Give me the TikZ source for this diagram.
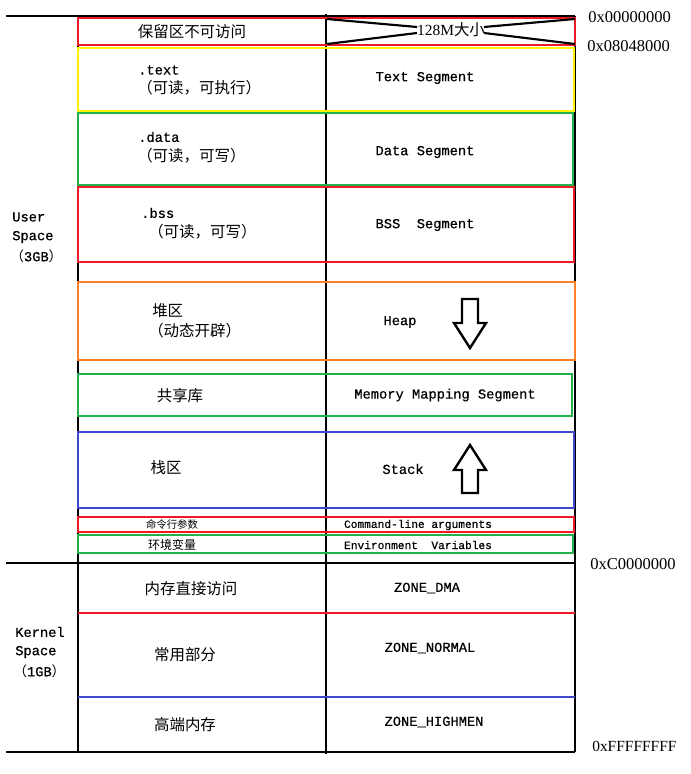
\documentclass[tikz,border=0pt]{standalone}
\usepackage{fontspec}
\setmainfont[FakeBold=0.6]{Liberation Mono}
\newfontfamily\cjk{Noto Sans CJK SC}
\newfontfamily\tms{Liberation Serif}
\definecolor{pred}{RGB}{237,28,36}
\definecolor{pyellow}{RGB}{255,242,0}
\definecolor{pgreen}{RGB}{34,177,76}
\definecolor{porange}{RGB}{255,127,39}
\definecolor{pblue}{RGB}{63,72,204}
\begin{document}
\begin{tikzpicture}[x=0.75pt,y=-0.75pt,
  frame/.style={line width=1.6pt,black},
  segbox/.style={line width=2.2pt},
  en/.style={inner sep=0pt,font=\fontsize{10.3}{12}\selectfont},
  ensmall/.style={inner sep=0pt,font=\fontsize{8.4}{10}\selectfont},
  zh/.style={inner sep=0pt,font=\cjk\fontsize{11.6}{14}\selectfont},
  zhsmall/.style={inner sep=0pt,font=\cjk\fontsize{7.8}{9}\selectfont},
  addr/.style={inner sep=0pt,anchor=west,font=\tms\fontsize{12.4}{14}\selectfont},
  blockarrow/.style={line width=1.8pt,black,fill=white,line join=miter}
]
\useasboundingbox (0,0) rectangle (691,774);

% black frame lines
\draw[frame] (6,16) -- (575,16);
\draw[frame] (6,563) -- (575,563);
\draw[frame] (6,752) -- (575,752);
\draw[frame] (78,16) -- (78,752);
\draw[frame] (326,14) -- (326,754);
\draw[frame] (575,16) -- (575,752);

% coloured segment boxes
\draw[segbox,pred] (78,18) rectangle (575,45);
\draw[segbox,pyellow] (78,48) rectangle (574,111);
\draw[segbox,pgreen] (78,113) rectangle (573,185);
\draw[segbox,pred] (78,187) rectangle (574,262);
\draw[segbox,porange] (78,282) rectangle (575,360);
\draw[segbox,pgreen] (78,374) rectangle (572,416);
\draw[segbox,pblue] (78,432) rectangle (574,508);
\draw[segbox,pred] (78,517) rectangle (574,532);
\draw[segbox,pgreen] (78,535) rectangle (573,553);
\draw[segbox,pred] (78,613) -- (575,613);
\draw[segbox,pblue] (78,697) -- (575,697);

% reserved area
\node[zh] (rsv) at (192,32) {保留区不可访问};
\node[inner sep=0pt,fill=white,font=\tms\fontsize{11.6}{14}\selectfont] (sz) at (451,30) {128M{\cjk 大小}};
\coordinate (ctl) at (327,19);
\coordinate (cbl) at (327,44);
\coordinate (ctr) at (575,19);
\coordinate (cbr) at (575,44);
\coordinate (jlt) at (417,27);
\coordinate (jlb) at (417,33);
\coordinate (jrt) at (484,27);
\coordinate (jrb) at (484,33);
\draw[line width=1.6pt] (ctl) -- (jlt) (cbl) -- (jlb)
  (ctr) -- (jrt) (cbr) -- (jrb);

% text
\node[en,anchor=west] (t1) at (138,70) {.text};
\node[zh,anchor=west] (t2) at (137,88) {（可读，可执行）};
\node[en] (t3) at (425,78) {Text Segment};

% data
\node[en,anchor=west] (d1) at (138,137) {.data};
\node[zh,anchor=west] (d2) at (137,156) {（可读，可写）};
\node[en] (d3) at (425,152) {Data Segment};

% bss
\node[en,anchor=west] (b1) at (141,213) {.bss};
\node[zh,anchor=west] (b2) at (148,232) {（可读，可写）};
\node[en] (b3) at (425,225) {BSS\ \ Segment};

% user space
\node[en,anchor=west] (u1) at (12,217) {User};
\node[en,anchor=west] (u2) at (12,237) {Space};
\node[en,anchor=west] (u3) at (10,256) {{\cjk （}3GB{\cjk ）}};

% heap
\node[zh,anchor=west] (h1) at (152,311) {堆区};
\node[zh,anchor=west] (h2) at (148,331) {（动态开辟）};
\node[en] (h3) at (400,322) {Heap};
\draw[blockarrow] (462,299) -- (478,299) -- (478,323) -- (486,323) -- (470,348)
  -- (454,323) -- (462,323) -- cycle;

% mmap
\node[zh] (m1) at (180,396) {共享库};
\node[en] (m2) at (445,395) {Memory Mapping Segment};

% stack
\node[zh] (s1) at (166,468) {栈区};
\node[en] (s2) at (403,469) {Stack};
\draw[blockarrow] (462,493) -- (478,493) -- (478,470) -- (486,470) -- (470,445)
  -- (454,470) -- (462,470) -- cycle;

% args / env
\node[zhsmall] (a1) at (172,525) {命令行参数};
\node[ensmall] (a2) at (418,525) {Command-line arguments};
\node[zh,font=\cjk\fontsize{9}{10}\selectfont] (e1) at (172,545) {环境变量};
\node[ensmall] (e2) at (418,545) {Environment\ \ Variables};

% kernel
\node[zh] (k1) at (191,589) {内存直接访问};
\node[en] (k2) at (427,588) {ZONE\_DMA};
\node[zh] (k3) at (185,655) {常用部分};
\node[en] (k4) at (430,648) {ZONE\_NORMAL};
\node[zh] (k5) at (185,725) {高端内存};
\node[en] (k6) at (434,722) {ZONE\_HIGHMEN};
\node[en,anchor=west] (ks1) at (15,632) {Kernel};
\node[en,anchor=west] (ks2) at (15,652) {Space};
\node[en,anchor=west] (ks3) at (13,671) {{\cjk （}1GB{\cjk ）}};

% addresses
\node[addr] (x0) at (588,17) {0x00000000};
\node[addr] (x1) at (587,46) {0x08048000};
\node[addr] (x2) at (590,564) {0xC0000000};
\node[addr,font=\tms\fontsize{11.6}{14}\selectfont] (x3) at (592,746) {0xFFFFFFFF};
\end{tikzpicture}
\end{document}
